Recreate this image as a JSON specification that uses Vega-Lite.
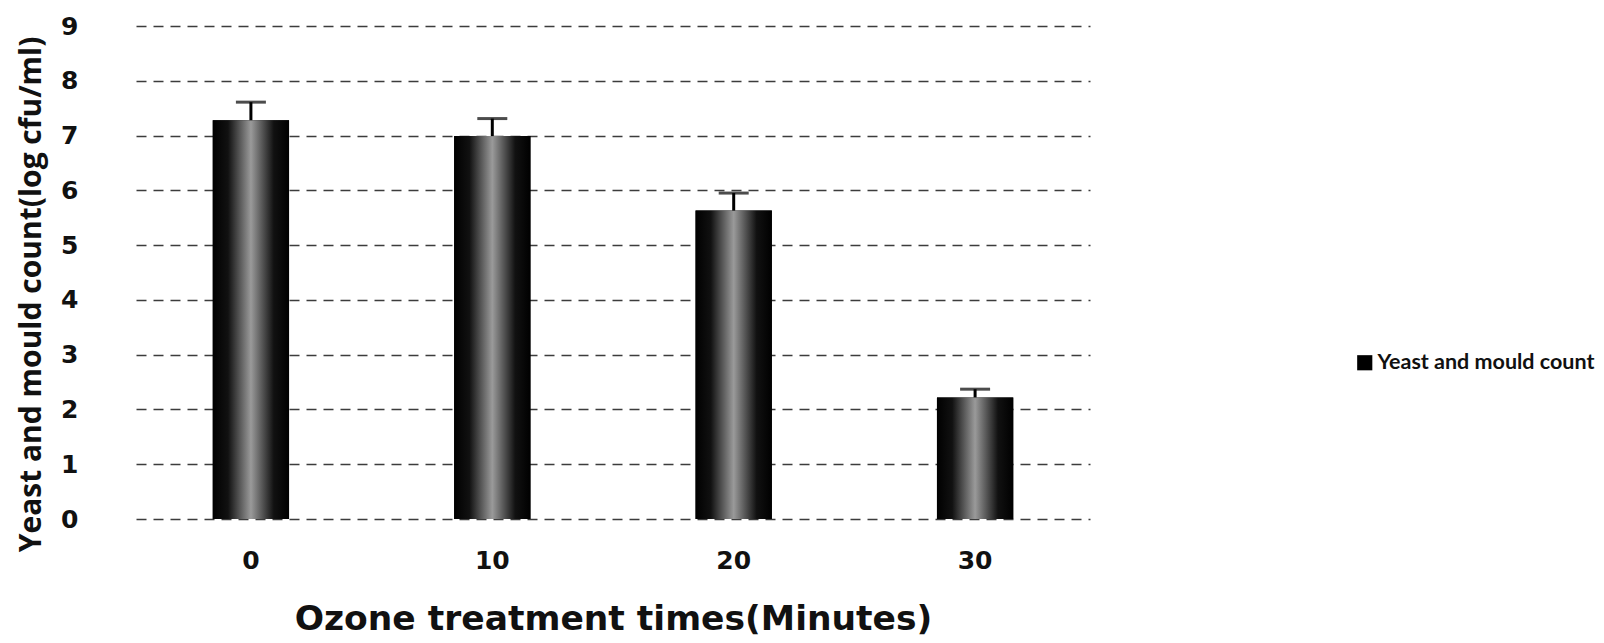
{
  "$schema": "https://vega.github.io/schema/vega-lite/v6.json",
  "width": 954,
  "height": 493,
  "autosize": {"type": "none"},
  "padding": {"left": 136, "top": 26, "right": 514, "bottom": 124},
  "background": "white",
  "config": {"view": {"stroke": null}},
  "data": {
    "values": [
      {"time": "0", "count": 7.28, "upper": 7.61, "series": "Yeast and mould count"},
      {"time": "10", "count": 6.99, "upper": 7.31, "series": "Yeast and mould count"},
      {"time": "20", "count": 5.63, "upper": 5.95, "series": "Yeast and mould count"},
      {"time": "30", "count": 2.22, "upper": 2.37, "series": "Yeast and mould count"}
    ]
  },
  "encoding": {
    "x": {
      "field": "time",
      "type": "ordinal",
      "sort": ["0", "10", "20", "30"],
      "scale": {"paddingInner": 0.684, "paddingOuter": 0.318},
      "axis": {
        "title": "Ozone treatment times(Minutes)",
        "labelAngle": 0,
        "domain": false,
        "ticks": false,
        "labelFont": "DejaVu Sans",
        "labelFontWeight": "bold",
        "labelFontSize": 25,
        "labelColor": "#111",
        "labelPadding": 29,
        "titleFont": "DejaVu Sans",
        "titleFontWeight": "bold",
        "titleFontSize": 34.5,
        "titleColor": "#111",
        "titlePadding": 29
      }
    }
  },
  "layer": [
    {
      "mark": {"type": "bar"},
      "encoding": {
        "y": {
          "field": "count",
          "type": "quantitative",
          "scale": {"domain": [0, 9], "nice": false},
          "axis": {
            "title": "Yeast and mould count(log cfu/ml)",
            "values": [0, 1, 2, 3, 4, 5, 6, 7, 8, 9],
            "format": "d",
            "domain": false,
            "ticks": false,
            "grid": true,
            "gridColor": "#1a1a1a",
            "gridDash": [10, 7],
            "gridWidth": 1.6,
            "gridOpacity": 0.85,
            "labelFont": "DejaVu Sans",
            "labelFontWeight": "bold",
            "labelFontSize": 25,
            "labelColor": "#111",
            "labelPadding": 58,
            "titleFont": "Open Sans",
            "titleFontWeight": "bold",
            "titleFontSize": 30,
            "titleColor": "#111",
            "titlePadding": 14,
            "titleY": 268
          }
        },
        "color": {
          "field": "series",
          "type": "nominal",
          "scale": {"range": ["#000000"]},
          "legend": {
            "title": null,
            "orient": "none",
            "legendX": 1218,
            "legendY": 326,
            "symbolType": "square",
            "symbolSize": 230,
            "symbolStrokeWidth": 0,
            "labelFont": "Lato",
            "labelFontWeight": "bold",
            "labelFontSize": 21.5,
            "labelLimit": 500,
            "labelColor": "#111",
            "labelOffset": 2
          }
        }
      }
    },
    {
      "mark": {
        "type": "bar",
        "color": {
          "gradient": "linear",
          "x1": 0, "y1": 0, "x2": 1, "y2": 0,
          "stops": [
            {"offset": 0, "color": "#000000"},
            {"offset": 0.2, "color": "#111111"},
            {"offset": 0.5, "color": "#9a9a9a"},
            {"offset": 0.8, "color": "#111111"},
            {"offset": 1, "color": "#000000"}
          ]
        }
      },
      "encoding": {
        "y": {"field": "count", "type": "quantitative"}
      }
    },
    {
      "mark": {"type": "rule", "color": "#000", "strokeWidth": 3},
      "encoding": {
        "y": {"field": "count", "type": "quantitative"},
        "y2": {"field": "upper"}
      }
    },
    {
      "mark": {"type": "tick", "color": "#000", "size": 30, "thickness": 3, "orient": "horizontal"},
      "encoding": {
        "y": {"field": "upper", "type": "quantitative"}
      }
    }
  ]
}
